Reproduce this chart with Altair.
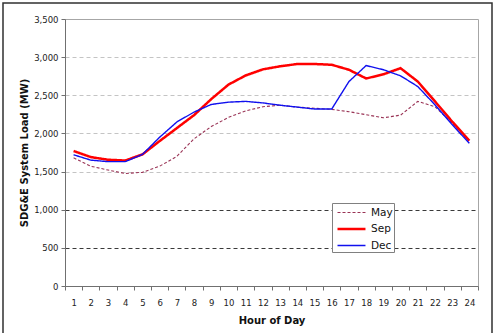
import altair as alt
import pandas as pd

# Hourly system load profiles (MW)
hours = list(range(1, 25))
may = [1680, 1570, 1520, 1475, 1490, 1570, 1700, 1930, 2090, 2210, 2295, 2350,
       2370, 2345, 2330, 2315, 2285, 2245, 2205, 2240, 2420, 2350, 2135, 1895]
sep = [1770, 1690, 1655, 1645, 1725, 1900, 2070, 2240, 2450, 2640, 2760, 2840,
       2880, 2910, 2910, 2900, 2835, 2720, 2775, 2855, 2680, 2420, 2155, 1905]
dec = [1720, 1650, 1630, 1630, 1725, 1950, 2150, 2280, 2380, 2410, 2420, 2400,
       2370, 2345, 2320, 2320, 2680, 2890, 2835, 2755, 2615, 2375, 2115, 1870]

months = ["May", "Sep", "Dec"]
series = {"May": may, "Sep": sep, "Dec": dec}
y_ticks = [0, 500, 1000, 1500, 2000, 2500, 3000, 3500]

rows = []
for m in months:
    for h, v in zip(hours, series[m]):
        rows.append({"hour": h, "month": m, "load": v})
df = pd.DataFrame(rows)

FONT = "DejaVu Sans"
W, H = 413, 267
PAD_L, PAD_T, PAD_R, PAD_B = 65, 19, 18, 47

x_enc = alt.X(
    "hour:O",
    scale=alt.Scale(type="band", paddingInner=0, paddingOuter=0),
    bandPosition=0.5,
    axis=alt.Axis(
        title="Hour of Day", labelAngle=0, tickBand="extent",
        domainColor="#707070", tickColor="#707070", tickSize=4,
        labelPadding=8, labelFont=FONT, labelFontSize=8.5, labelColor="#222222",
        titleFont=FONT, titleFontSize=10, titleFontWeight="bold",
        titleColor="#111111", titlePadding=9, grid=False,
    ),
)

y_enc = alt.Y(
    "load:Q",
    scale=alt.Scale(domain=[0, 3500], nice=False),
    axis=alt.Axis(
        title="SDG&E System Load (MW)", values=y_ticks, format=",.0f",
        domainColor="#707070", tickColor="#707070", tickSize=4,
        labelPadding=3, labelFont=FONT, labelFontSize=8.5, labelColor="#222222",
        titleFont=FONT, titleFontSize=10, titleFontWeight="bold",
        titleColor="#111111", titlePadding=4,
        grid=True, gridDash=[4, 3],
        gridColor={"condition": {"test": "datum.value <= 1000", "value": "#3a3a3a"},
                   "value": "#c4c4c4"},
        gridOpacity={"condition": {"test": "datum.value == 0 || datum.value == 3500",
                                   "value": 0}, "value": 1},
    ),
)

# Legend swatch: a horizontal stroke reaching right of the nominal symbol box
swatch = "M-0.6,0H3.13"

lines = alt.Chart(df).mark_line(clip=False).encode(
    x=x_enc,
    y=y_enc,
    color=alt.Color(
        "month:N",
        scale=alt.Scale(domain=months, range=["#993355", "#ff0000", "#1010ee"]),
        legend=alt.Legend(
            title=None, orient="none", legendX=267, legendY=184,
            symbolType=swatch, symbolSize=225, labelFont=FONT,
            labelFontSize=10.5, labelColor="#111111", labelOffset=20,
            strokeColor="#808080", fillColor="white", padding=1,
            rowPadding=2,
        ),
    ),
    strokeDash=alt.StrokeDash(
        "month:N",
        scale=alt.Scale(domain=months, range=[[3, 2], [1, 0], [1, 0]]),
    ),
    strokeWidth=alt.StrokeWidth(
        "month:N",
        scale=alt.Scale(type="ordinal", domain=months, range=[1.1, 2.5, 1.4]),
    ),
    order=alt.Order("hour:O"),
)

# Outer chart frame
frame = alt.Chart(pd.DataFrame({"k": [0]})).mark_rect(
    fill=None, stroke="#303030", strokeWidth=1.5, clip=False
).encode(
    x=alt.value(3 - PAD_L), x2=alt.value(492 - PAD_L),
    y=alt.value(3 - PAD_T), y2=alt.value(345 - PAD_T),
)

chart = alt.layer(frame, lines).properties(
    width=W, height=H,
    autosize=alt.AutoSizeParams(type="none"),
    padding={"left": PAD_L, "top": PAD_T, "right": PAD_R, "bottom": PAD_B},
    background="white",
).configure_view(stroke="#a6a6a6", strokeWidth=1)

chart.save("out.html", embed_options={"renderer": "svg", "actions": False})
